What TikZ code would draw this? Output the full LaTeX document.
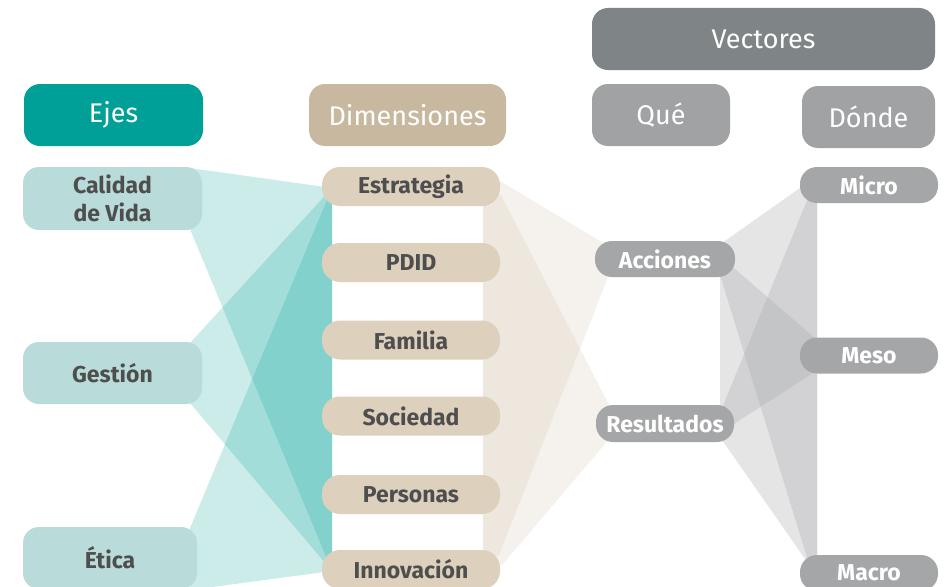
\documentclass[tikz,border=0pt]{standalone}
\usepackage{fontspec}
\setmainfont{Fira Sans}
\definecolor{tealH}{RGB}{0,160,152}
\definecolor{tanH}{RGB}{200,184,159}
\definecolor{vecH}{RGB}{127,132,134}
\definecolor{grayH}{RGB}{160,162,164}
\definecolor{ejeItem}{RGB}{185,219,218}
\definecolor{dimItem}{RGB}{221,208,189}
\definecolor{grayItem}{RGB}{165,166,168}
\definecolor{txtDark}{RGB}{78,78,78}
\definecolor{tealF}{RGB}{0,161,154}
\definecolor{tanF}{RGB}{201,183,156}
\definecolor{grayF}{RGB}{160,162,164}
\tikzset{
  box/.style={rounded corners=16pt, inner sep=0pt, align=center, draw=none},
  header/.style={box, text=white, font=\fontsize{27}{30}\selectfont},
  ejebox/.style={box, fill=ejeItem, text=txtDark, font=\fontsize{23}{28}\selectfont\bfseries, minimum height=62pt},
  dimbox/.style={box, fill=dimItem, text=txtDark, font=\fontsize{23}{25}\selectfont\bfseries, minimum width=178pt, minimum height=39pt, rounded corners=18pt},
  graybox/.style={box, fill=grayItem, text=white, font=\fontsize{23}{25}\selectfont\bfseries, minimum width=138pt, minimum height=36pt, rounded corners=17pt},
  tealfan/.style={fill=tealF, fill opacity=0.2, draw=none},
  tanfan/.style={fill=tanF, fill opacity=0.18, draw=none},
  grayfan/.style={fill=grayF, fill opacity=0.27, draw=none},
}
\begin{document}
\begin{tikzpicture}[x=1pt,y=-1pt]
\useasboundingbox (0,0) rectangle (944,586);
\clip (0,0) rectangle (944,586);
\fill[white] (0,0) rectangle (944,586);

% teal fans: Ejes -> Dimensiones
\path[tealfan] (190,168) -- (332,188) -- (332,571) -- (190,229) -- cycle;
\path[tealfan] (190,343) -- (332,188) -- (332,571) -- (190,403) -- cycle;
\path[tealfan] (190,528) -- (332,188) -- (332,571) -- (190,590) -- cycle;

% tan fans: Dimensiones -> Que
\path[tanfan] (483,185) -- (500,181) -- (610,247) -- (610,272) -- (499,555) -- (483,560) -- cycle;
\path[tanfan] (483,190) -- (501,195) -- (610,407) -- (610,438) -- (502,565) -- (483,565) -- cycle;

% gray fans: Que -> Donde
\path[grayfan] (722,243) -- (817,176) -- (817,590) -- (720,275) -- cycle;
\path[grayfan] (720,413) -- (817,176) -- (817,576) -- (722,440) -- cycle;
\path[grayfan] (817,340) -- (816,371) -- (720,433) -- (720,256) -- cycle;

% headers
\node[header, fill=tealH, minimum width=179pt, minimum height=62pt] (ejesH) at (113.5,115) {Ejes};
\node[header, fill=tanH, minimum width=197pt, minimum height=62pt] (dimH) at (407.5,115) {Dimensiones};
\node[header, fill=vecH, minimum width=343pt, minimum height=62pt] (vecH) at (763.5,39) {Vectores};
\node[header, fill=grayH, minimum width=138pt, minimum height=62pt] (queH) at (661,115) {Qué};
\node[header, fill=grayH, minimum width=133pt, minimum height=62pt] (dondeH) at (868.5,117) {Dónde};

% Ejes
\node[ejebox, minimum width=179pt, minimum height=63pt] (cal) at (112.5,198.5) {Calidad\\de Vida};
\node[ejebox, minimum width=179pt] (ges) at (112.5,373) {Gestión};
\node[ejebox, minimum width=174pt] (eti) at (110,558) {Ética};

% Dimensiones
\node[dimbox] (est) at (411,186.5) {Estrategia};
\node[dimbox] (pdid) at (411,262.5) {PDID};
\node[dimbox] (fam) at (411,340) {Familia};
\node[dimbox] (soc) at (411,416) {Sociedad};
\node[dimbox] (per) at (411,494.5) {Personas};
\node[dimbox] (inn) at (411,569.5) {Innovación};

% Que
\node[graybox, minimum width=140pt] (acc) at (665,259) {Acciones};
\node[graybox, minimum height=37pt] (res) at (665,423.5) {Resultados};

% Donde
\node[graybox] (mic) at (869,185) {Micro};
\node[graybox] (meso) at (869,355.5) {Meso};
\node[graybox] (mac) at (869,573) {Macro};
\end{tikzpicture}
\end{document}
